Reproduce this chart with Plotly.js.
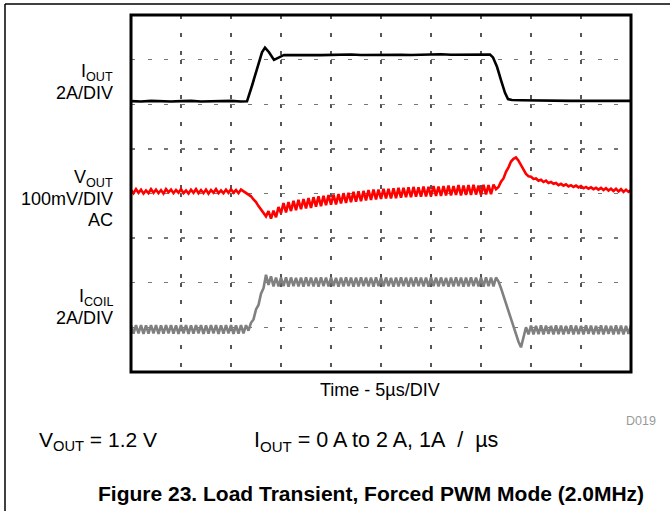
<!DOCTYPE html>
<html><head><meta charset="utf-8">
<script src="https://cdn.plot.ly/plotly-3.0.1.min.js"></script>
<style>html,body{margin:0;padding:0;background:#fff}#chart{width:670px;height:511px}</style>
</head><body><div id="chart"></div>
<script>
const SAMPLE_DT_US = 0.25;   // sample interval of the sampled traces (µs)

// Inductor current, A (2 A/DIV), sampled every SAMPLE_DT_US from t = 0
const icoilAmps = [
 0.18,-0.19,0.2,-0.18,0.19,-0.2,0.18,-0.19,0.2,-0.18,
 0.19,-0.2,0.18,-0.19,0.2,-0.18,0.19,-0.19,0.18,-0.2,
 0.2,-0.18,0.19,-0.2,0.18,-0.19,0.2,-0.18,0.19,-0.2,
 0.18,-0.19,0.2,-0.18,0.19,-0.2,0.18,-0.19,0.2,-0.18,
 0.19,-0.2,0.18,-0.19,0.2,-0.18,0.19,
 -0.05,0.3,0.45,0.9,1.1,1.6,1.85,2.45,2.0,2.38,1.93,
 2.33,1.93,2.32,1.94,2.34,1.92,2.33,1.94,2.31,1.93,
 2.33,1.92,2.34,1.94,2.32,1.93,2.33,1.92,2.34,1.94,
 2.32,1.93,2.33,1.94,2.31,1.92,2.33,1.93,2.34,1.94,
 2.32,1.92,2.33,1.93,2.34,1.94,2.32,1.93,2.33,1.92,
 2.34,1.94,2.32,1.93,2.33,1.94,2.31,1.92,2.33,1.93,
 2.34,1.94,2.32,1.92,2.33,1.93,2.34,1.94,2.32,1.93,
 2.33,1.92,2.34,1.94,2.32,1.93,2.33,1.94,2.31,1.92,
 2.33,1.93,2.34,1.94,2.32,1.92,2.33,1.93,2.34,1.94,
 2.32,1.93,2.33,1.92,2.34,1.94,2.32,1.93,2.33,
 2.15,1.85,1.5,1.15,0.8,0.45,0.1,-0.25,-0.55,-0.8,-0.35,0.1,-0.22,
 0.17,-0.22,0.16,-0.21,0.18,-0.22,0.17,-0.2,0.16,-0.22,
 0.18,-0.21,0.17,-0.22,0.16,-0.2,0.18,-0.22,0.17,-0.21,
 0.16,-0.22,0.18,-0.2,0.17,-0.22,0.16,-0.21,0.18,-0.22,
 0.17,-0.2,0.16,-0.22,0.18,-0.21,0.17,-0.22,0.16,-0.2,
 0.18
];

// Output voltage, AC coupled, mV (100 mV/DIV), sampled every SAMPLE_DT_US from t = 0
const voutMilliVolts = [
 3,-4,5,-3,4,-5,2,-4,5,-3, 4,-4,3,-5,5,-2,4,-4,3,-3,
 5,-4,2,-5,4,-3,5,-4,3,-4, 4,-5,3,-3,5,-4,2,-4,4,-3,
 5,-3,3,-4,4,
 0,-3,-6,-11,-18,-24,-33,-40,-47,-56,-44,-61,-43,-58,-35,
 -49,-26,-47,-24,-44,-21,-42,-19,-40,-17,
 -38,-15,-37,-13,-34,-11,-33,-10,-31,-8,
 -30,-7,-29,-6,-27,-4,-26,-3,-24,-1,
 -23,0,-22,1,-20,3,-19,4,-18,4,
 -17,6,-16,6,-16,7,-15,8,-14,8,
 -13,9,-13,10,-12,9,-12,11,-11,10,
 -11,12,-10,11,-10,12,-9,13,-9,12,
 -8,14,-9,13,-8,14,-8,15,-7,13,
 -8,15,-7,14,-6,15,
 5,10,22,29,44,54,67,73,76,69,
 60,48,39,34,33,28,29,24,26,21,
 24,19,21,17,19,14,17,13,16,11,
 14,10,13,9,12,7,10,6,9,5,
 8,4,8,3,7,2,6,1,6,0,
 5,-1,4,-1,3
];

// Load current, A (2 A/DIV)
const ioutTimeUs = [0,1,2,3,4,5,6,7,8,9,10,11,
 11.6,12.1,12.6,13.1,13.4,13.8,14.3,14.8,15.3,
 16,17,18,19,20,21,22,23,24,25,26,27,28,29,30,31,32,33,34,35,
 35.9,36.2,36.6,37.0,37.4,37.7,38.1,
 39,40,41,42,43,44,45,46,47,48,49,50];
const ioutAmps = [0.01,-0.01,0.02,0,-0.01,0.01,0.02,-0.01,0.01,0,0.02,-0.01,
 0.0,0.7,1.45,2.2,2.41,2.2,1.86,1.98,2.08,
 2.07,2.09,2.08,2.07,2.09,2.08,2.1,2.08,2.09,2.07,2.1,2.09,2.08,2.1,2.09,2.11,2.09,2.1,2.11,2.1,
 2.1,1.97,1.55,0.95,0.38,0.1,0.06,
 0.05,0.04,0.05,0.03,0.04,0.02,0.03,0.02,0.03,0.01,0.02,0.02];

// Text
const ioutLabel = ['I<sub>OUT</sub>', '2A/DIV'];
const voutLabel = ['V<sub>OUT</sub>', '100mV/DIV', 'AC'];
const icoilLabel = ['I<sub>COIL</sub>', '2A/DIV'];
const xLabel = 'Time - 5µs/DIV';
const figId = 'D019';
const conditions = ['V<sub>OUT</sub> = 1.2 V', 'I<sub>OUT</sub> = 0 A to 2 A, 1A&nbsp; /&nbsp; µs'];
const caption = 'Figure 23. Load Transient, Forced PWM Mode (2.0MHz)';

// Scope screen: 10 x 8 divisions, 5 µs/DIV
const TIME_PER_DIV = 5, X_DIVS = 10, Y_DIVS = 8;

// ---- layout helpers ----
const W = 670, H = 511;
const M = {l: 131, r: 39, t: 15, b: 139};
const PW = W - M.l - M.r, PH = H - M.t - M.b;
const px = x => (x - M.l) / PW;
const py = y => (H - M.b - y) / PH;
const chanRange = (perDiv, zeroDiv) => [-zeroDiv * perDiv, (Y_DIVS - zeroDiv) * perDiv];

const FONT = 'Liberation Sans, Arial, Helvetica, sans-serif';
const LW = 2.6;

const traces = [
  {x0: 0, dx: SAMPLE_DT_US, y: icoilAmps, yaxis: 'y', type: 'scatter', mode: 'lines',
   line: {color: '#808080', width: LW}, name: 'ICOIL', hoverinfo: 'skip'},
  {x0: 0, dx: SAMPLE_DT_US, y: voutMilliVolts, yaxis: 'y3', type: 'scatter', mode: 'lines',
   line: {color: '#ff0000', width: LW}, name: 'VOUT', hoverinfo: 'skip'},
  {x: ioutTimeUs, y: ioutAmps, yaxis: 'y2', type: 'scatter', mode: 'lines',
   line: {color: '#000000', width: 2.6}, name: 'IOUT', hoverinfo: 'skip'}
];

const overlay = {overlaying: 'y', anchor: 'x', autorange: false, fixedrange: true,
  showgrid: false, showticklabels: false, ticks: '', zeroline: false, showline: false};

function label(text, yc, opts) {
  return Object.assign({text: text, xref: 'paper', yref: 'paper', x: px(115), y: py(yc),
    xanchor: 'right', yanchor: 'middle', showarrow: false, align: 'right',
    font: {family: FONT, size: 18, color: '#000'}}, opts || {});
}

const annotations = [
  label(ioutLabel[0], 72), label(ioutLabel[1], 93),
  label(voutLabel[0], 178), label(voutLabel[1], 199), label(voutLabel[2], 220),
  label(icoilLabel[0], 297), label(icoilLabel[1], 318),
  label(xLabel, 390, {x: px(380), xanchor: 'center'}),
  label(figId, 421, {x: px(658), font: {family: FONT, size: 12.5, color: '#999'}}),
  label(conditions[0], 441, {x: px(37), xanchor: 'left', align: 'left', font: {family: FONT, size: 21, color: '#000'}}),
  label(conditions[1], 441, {x: px(252), xanchor: 'left', align: 'left', font: {family: FONT, size: 21.5, color: '#000'}}),
  label('<b>' + caption + '</b>', 493, {x: px(371), xanchor: 'center', font: {family: FONT, size: 21, color: '#000'}})
];

const icoilRange = chanRange(2, 0.953);

const layout = {
  width: W, height: H, margin: M, showlegend: false,
  paper_bgcolor: '#fff', plot_bgcolor: 'rgba(0,0,0,0)',
  xaxis: {range: [0, X_DIVS * TIME_PER_DIV], tick0: 0, dtick: TIME_PER_DIV, autorange: false,
    showgrid: true, gridcolor: '#555', gridwidth: 1.3, griddash: '4px,13.8px,4px,13.9px,4px,4.9px',
    showticklabels: false, ticks: '', zeroline: false, showline: false, fixedrange: true},
  // main y axis carries the I_COIL channel and the 8-division screen grid
  yaxis: {range: icoilRange, tick0: icoilRange[0], dtick: 2, autorange: false,
    showgrid: true, gridcolor: '#777', gridwidth: 1.3, griddash: '4px,12.67px',
    showticklabels: false, ticks: '', zeroline: false, showline: false, fixedrange: true},
  yaxis2: Object.assign({range: chanRange(2, 6.065)}, overlay),
  yaxis3: Object.assign({range: chanRange(100, 4.047)}, overlay),
  shapes: [
    {type: 'rect', xref: 'paper', yref: 'paper', x0: 0, x1: 1, y0: 0, y1: 1,
     line: {color: '#000', width: 3}, layer: 'above'},
    {type: 'line', xref: 'paper', yref: 'paper', x0: px(5), x1: px(672), y0: py(4), y1: py(4),
     line: {color: '#000', width: 1.5}},
    {type: 'line', xref: 'paper', yref: 'paper', x0: px(5), x1: px(5), y0: py(4), y1: py(515),
     line: {color: '#000', width: 1.5}}
  ],
  annotations: annotations
};

Plotly.newPlot('chart', traces, layout, {displayModeBar: false, staticPlot: true});
</script>
</body></html>
